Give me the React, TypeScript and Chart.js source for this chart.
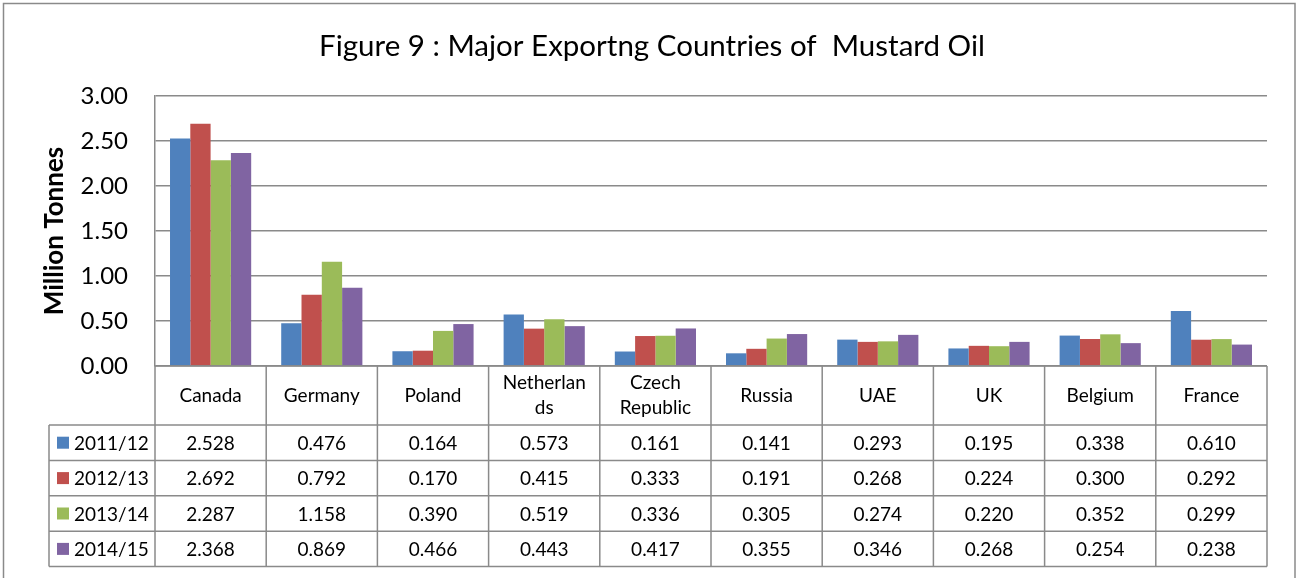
import React, { useEffect, useRef } from "react";
import { Chart, registerables } from "chart.js";

Chart.register(...registerables);

const chartTitle = "Figure 9 : Major Exportng Countries of  Mustard Oil";
const yAxisTitle = "Million Tonnes";
const categories: string[][] = [
  ["Canada"],
  ["Germany"],
  ["Poland"],
  ["Netherlan", "ds"],
  ["Czech", "Republic"],
  ["Russia"],
  ["UAE"],
  ["UK"],
  ["Belgium"],
  ["France"],
];
const seriesNames = ["2011/12", "2012/13", "2013/14", "2014/15"];
const s2011 = [2.528, 0.476, 0.164, 0.573, 0.161, 0.141, 0.293, 0.195, 0.338, 0.61];
const s2012 = [2.692, 0.792, 0.17, 0.415, 0.333, 0.191, 0.268, 0.224, 0.3, 0.292];
const s2013 = [2.287, 1.158, 0.39, 0.519, 0.336, 0.305, 0.274, 0.22, 0.352, 0.299];
const s2014 = [2.368, 0.869, 0.466, 0.443, 0.417, 0.355, 0.346, 0.268, 0.254, 0.238];
const seriesValues = [s2011, s2012, s2013, s2014];
const seriesColors = ["#4F81BD", "#C0504D", "#9BBB59", "#8064A2"];
const yTicks = [0, 0.5, 1, 1.5, 2, 2.5, 3];
const yTickLabels = ["0.00", "0.50", "1.00", "1.50", "2.00", "2.50", "3.00"];

const FONT = "Lato, 'Open Sans', sans-serif";
const LINE = "#8a8a8a";

const tablePlugin = {
  id: "dataTable",
  beforeDraw(chart: any) {
    const ctx = chart.ctx;
    ctx.save();
    ctx.fillStyle = "#fff";
    ctx.fillRect(0, 0, chart.width, chart.height);
    ctx.strokeStyle = LINE;
    ctx.lineWidth = 1.5;
    ctx.strokeRect(3.5, 3.5, 1291.5, 640);
    ctx.restore();
  },
  afterDraw(chart: any) {
    const ctx = chart.ctx;
    const xs = chart.scales.x;
    const area = chart.chartArea;
    const n = categories.length;
    const half = (xs.getPixelForValue(1) - xs.getPixelForValue(0)) / 2;
    const centers = categories.map((_, i) => xs.getPixelForValue(i));
    const edges = centers.map((c) => c - half);
    edges.push(centers[n - 1] + half);
    const headerTop = area.bottom;
    const headerBottom = headerTop + 59;
    const rowH = 35.4;
    const tableBottom = headerBottom + rowH * seriesNames.length;
    const legendLeft = 49;

    ctx.save();
    // title
    ctx.fillStyle = "#000";
    ctx.font = `29.5px ${FONT}`;
    ctx.textAlign = "center";
    ctx.textBaseline = "middle";
    ctx.fillText(chartTitle, 652, 46);

    // lines
    ctx.strokeStyle = LINE;
    ctx.lineWidth = 1.5;
    ctx.beginPath();
    edges.forEach((x) => {
      ctx.moveTo(x, headerTop);
      ctx.lineTo(x, tableBottom);
    });
    ctx.moveTo(legendLeft, headerBottom);
    ctx.lineTo(legendLeft, tableBottom);
    for (let k = 0; k <= seriesNames.length; k++) {
      const y = headerBottom + k * rowH;
      ctx.moveTo(legendLeft, y);
      ctx.lineTo(edges[n], y);
    }
    ctx.moveTo(edges[0], headerTop);
    ctx.lineTo(edges[n], headerTop);
    ctx.stroke();

    // header labels
    ctx.fillStyle = "#000";
    ctx.font = `19px ${FONT}`;
    ctx.textAlign = "center";
    ctx.textBaseline = "middle";
    const hc = (headerTop + headerBottom) / 2;
    categories.forEach((lines, i) => {
      if (lines.length === 1) {
        ctx.fillText(lines[0], centers[i], hc);
      } else {
        ctx.fillText(lines[0], centers[i], hc - 12.5);
        ctx.fillText(lines[1], centers[i], hc + 12.5);
      }
    });

    // rows
    seriesNames.forEach((name, r) => {
      const cy = headerBottom + rowH * r + rowH / 2;
      ctx.fillStyle = seriesColors[r];
      ctx.fillRect(57, cy - 6, 12, 12);
      ctx.fillStyle = "#000";
      ctx.textAlign = "left";
      ctx.fillText(name, 74, cy + 1);
      ctx.textAlign = "center";
      seriesValues[r].forEach((v, i) => {
        ctx.fillText(v.toFixed(3), centers[i], cy + 1);
      });
    });
    ctx.restore();
  },
};

export default function App() {
  const ref = useRef<HTMLCanvasElement | null>(null);
  useEffect(() => {
    if (!ref.current) return;
    const chart = new Chart(ref.current, {
      type: "bar",
      data: {
        labels: categories.map((c) => c.join("")),
        datasets: seriesNames.map((name, i) => ({
          label: name,
          data: seriesValues[i],
          backgroundColor: seriesColors[i],
          borderWidth: 0,
          categoryPercentage: 0.73,
          barPercentage: 1,
        })),
      },
      options: {
        responsive: false,
        animation: false,
        layout: { padding: { left: 0, top: 96, right: 29, bottom: 212 } },
        plugins: {
          legend: { display: false },
          tooltip: { enabled: false },
          title: { display: false },
        },
        scales: {
          x: { display: false },
          y: {
            min: 0,
            max: 3,
            afterBuildTicks: (s: any) => {
              s.ticks = yTicks.map((v) => ({ value: v }));
            },
            ticks: {
              callback: (v: any) => yTickLabels[yTicks.indexOf(Number(v))],
              font: { family: FONT, size: 24 },
              color: "#000",
              padding: 27,
            },
            grid: { color: LINE, lineWidth: 1.5, drawTicks: false },
            border: { display: true, color: LINE, width: 1.5 },
            title: {
              display: true,
              text: yAxisTitle,
              font: { family: FONT, size: 26, weight: "bold" },
              color: "#000",
              padding: { top: 39, bottom: 0 },
            },
            afterFit: (s: any) => {
              s.width = 155;
            },
          },
        },
      },
      plugins: [tablePlugin],
    });
    return () => chart.destroy();
  }, []);
  return (
    <div style={{ position: "fixed", left: 0, top: 0, width: 1296, height: 578 }}>
      <canvas ref={ref} width={1296} height={578} />
    </div>
  );
}
